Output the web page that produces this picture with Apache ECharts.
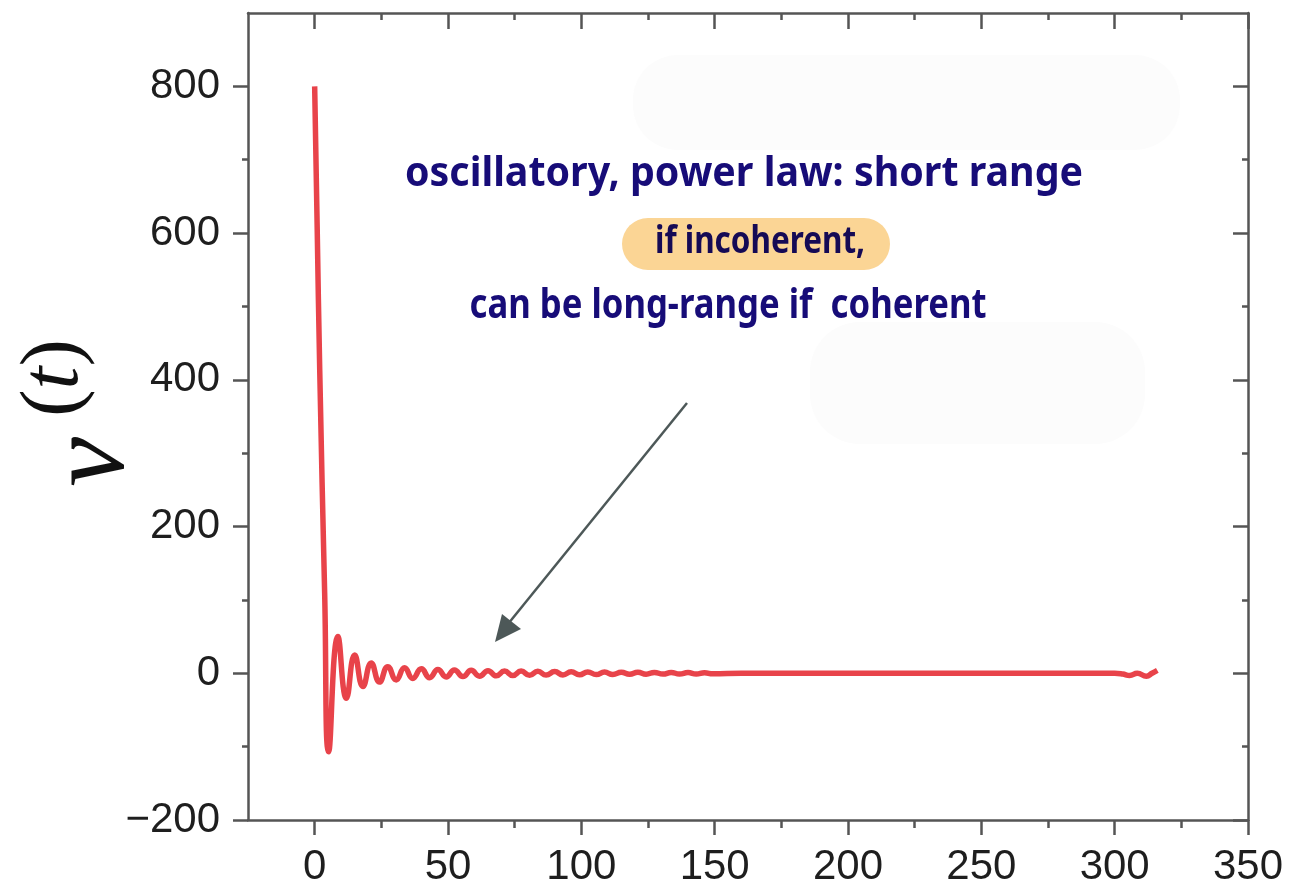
<!DOCTYPE html>
<html><head><meta charset="utf-8">
<script src="https://cdn.jsdelivr.net/npm/echarts@6/dist/echarts.min.js"></script>
<style>html,body{margin:0;padding:0;background:#fff}#c{width:1291px;height:888px}</style>
</head><body><div id="c"></div>
<script>
// time values (x) and v(t) values
const tValues = [0, 0.95, 1.9, 3.75, 5.25,
  8.7, 11.9, 15.0, 18.1, 21.2, 24.3, 27.4, 30.6, 33.7, 36.8,
  40.0, 43.1, 46.2, 49.3, 52.4, 55.6, 58.7, 61.8, 65.0, 68.1,
  71.2, 74.3, 77.4, 80.6, 83.7, 86.8, 90.0, 93.1, 96.2, 99.3,
  102.4, 105.6, 108.7, 111.8, 115.0, 118.1, 121.2, 124.3, 127.4, 130.6,
  133.7, 136.8, 140.0, 143.1, 146.2, 149.3,
  160, 200, 250, 290, 300, 303, 305.6, 308.5, 311.9, 314, 316];
const vValues = [800, 606, 413, 109, -107,
  50, -34, 25, -18, 14, -12, 9, -9, 7.5, -7,
  6, -6, 5, -5, 4.5, -4.5, 4, -4, 3.5, -3.5,
  3, -3, 3, -2.8, 2.6, -2.5, 2.3, -2.2, 2, -2,
  1.8, -1.8, 1.6, -1.6, 1.5, -1.4, 1.3, -1.3, 1.2, -1.1,
  1.0, -1.0, 0.9, -0.9, 0.8, -0.8,
  0, 0, 0, 0, 0, -1, -3, 0, -4, 0, 4];
const xMajorTicks = [0, 50, 100, 150, 200, 250, 300, 350];
const xMinorTicks = [25, 75, 125, 175, 225, 275, 325];
const yMajorTicks = [-200, 0, 200, 400, 600, 800];
const yMinorTicks = [-100, 100, 300, 500, 700];
const annotationLines = ['oscillatory, power law: short range', 'if incoherent,', 'can be long-range if  coherent'];

const X_MIN = -25, X_MAX = 350, Y_MIN = -200, Y_MAX = 900;
const AX = '#555';
const seriesData = tValues.map((t, i) => [t, vValues[i]]);

function measure(text, font) {
  const c = document.createElement('canvas').getContext('2d');
  c.font = font; return c.measureText(text).width;
}
const annFont = 'bold 41px "Noto Sans"';
const annFont2 = 'bold 37px "Noto Sans"';
function fitText(text, font, cx, cy, targetW, color) {
  const w = measure(text, font);
  return {type: 'text', x: cx, y: cy, scaleX: targetW / w, scaleY: 1, z: 20,
    style: {text: text, font: font, fill: color, align: 'center', verticalAlign: 'middle'}};
}
const minusFmt = v => String(v).replace('-', '\u2212');

function xAx(pos, ticks, len, inside, labels, line) {
  return {type: 'value', position: pos, min: X_MIN, max: X_MAX,
    axisLine: {show: line, onZero: false, lineStyle: {color: AX, width: 2.5}},
    axisTick: {show: true, inside: inside, length: len, customValues: ticks, lineStyle: {color: AX, width: 2.5}},
    axisLabel: labels ? {show: true, customValues: ticks, margin: 26, color: '#1e1e1e', fontSize: 42, fontFamily: 'Liberation Sans'} : {show: false},
    splitLine: {show: false}};
}
function yAx(pos, ticks, len, inside, labels, line) {
  return {type: 'value', position: pos, min: Y_MIN, max: Y_MAX,
    axisLine: {show: line, onZero: false, lineStyle: {color: AX, width: 2.5}},
    axisTick: {show: true, inside: inside, length: len, customValues: ticks, lineStyle: {color: AX, width: 2.5}},
    axisLabel: labels ? {show: true, customValues: ticks, formatter: minusFmt, margin: 28, color: '#1e1e1e', fontSize: 42, fontFamily: 'Liberation Sans'} : {show: false},
    splitLine: {show: false}};
}

const chart = echarts.init(document.getElementById('c'), null, {renderer: 'canvas'});
chart.setOption({
  animation: false,
  backgroundColor: '#fff',
  grid: {left: 248, right: 43, top: 13, bottom: 68, containLabel: false},
  xAxis: [
    xAx('bottom', xMajorTicks, 15, false, true, true),
    xAx('bottom', xMinorTicks, 8, false, false, false),
    xAx('top', xMajorTicks, 16, true, false, true),
    xAx('top', xMinorTicks, 7, true, false, false)
  ],
  yAxis: [
    yAx('left', yMajorTicks, 15, false, true, true),
    yAx('left', yMinorTicks, 6, false, false, false),
    yAx('right', yMajorTicks, 15, true, false, true),
    yAx('right', yMinorTicks, 6, true, false, false)
  ],
  series: [{
    type: 'line', xAxisIndex: 0, yAxisIndex: 0, data: seriesData,
    smooth: 0.5, showSymbol: false, z: 5,
    lineStyle: {color: '#e8434a', width: 5.5}
  }],
  graphic: [
    {type: 'rect', shape: {x: 633, y: 55, width: 547, height: 95, r: 45}, style: {fill: '#fcfcfc'}, z: 1},
    {type: 'rect', shape: {x: 810, y: 322, width: 335, height: 122, r: 50}, style: {fill: '#fcfcfc'}, z: 1},
    {type: 'rect', shape: {x: 622, y: 218, width: 268, height: 52, r: 26}, style: {fill: '#fbd595'}, z: 10},
    fitText(annotationLines[0], annFont, 744, 174, 678, '#170c78'),
    fitText(annotationLines[1], annFont2, 760, 242, 210, '#150a55'),
    fitText(annotationLines[2], annFont, 728, 306, 517, '#170c78'),
    {type: 'line', shape: {x1: 687, y1: 403, x2: 508, y2: 624}, style: {stroke: '#4d5858', lineWidth: 2.5}, z: 20},
    {type: 'polygon', shape: {points: [[495, 642], [502, 614], [521, 629]]}, style: {fill: '#4d5858'}, z: 20},
    {type: 'text', x: 94, y: 462, rotation: Math.PI / 2, z: 20,
      style: {text: 'v', font: 'italic 112px "Liberation Serif"', fill: '#111', align: 'center', verticalAlign: 'middle'}},
    {type: 'text', x: 55, y: 378, rotation: Math.PI / 2, z: 20,
      style: {text: '{p|(}{i|t}{p|)}', fill: '#111', align: 'center', verticalAlign: 'middle',
        rich: {p: {fontSize: 82, fontFamily: 'Liberation Serif', fill: '#111'},
               i: {fontSize: 82, fontFamily: 'Liberation Serif', fontStyle: 'italic', fill: '#111'}}}}
  ]
});
</script></body></html>
